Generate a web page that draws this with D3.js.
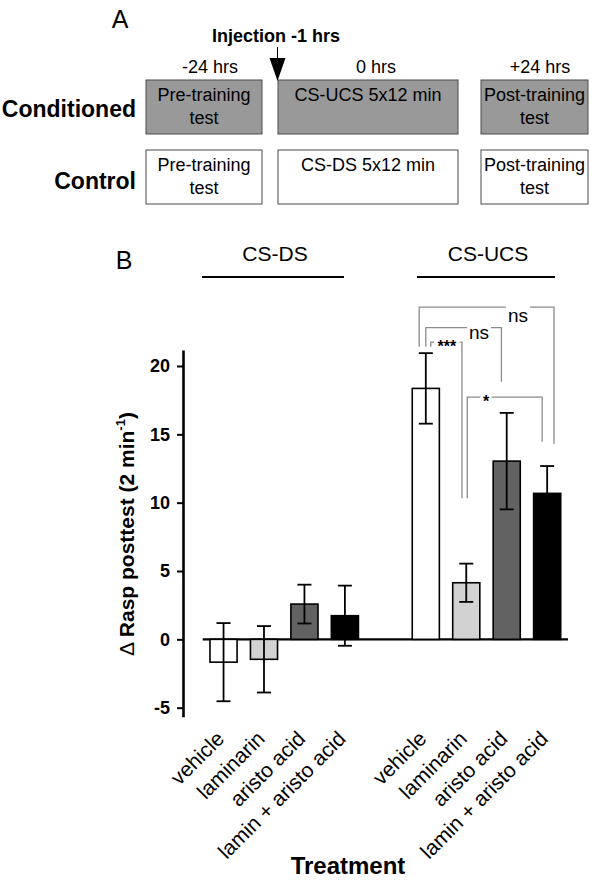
<!DOCTYPE html>
<html><head><meta charset="utf-8">
<script src="https://cdn.jsdelivr.net/npm/d3@7"></script>
<style>body{margin:0;background:#fff}svg{display:block}text{font-family:"Liberation Sans",Arial,sans-serif}</style>
</head><body><div id="chart"></div>
<script>
// ---------- data ----------
const groups = ["CS-DS", "CS-UCS"];
const treatments = ["vehicle", "laminarin", "aristo acid", "lamin + aristo acid"];
const meansCSDS = [-1.67, -1.46, 2.58, 1.73];
const errCSDS = [2.86, 2.43, 1.42, 2.2];
const meansCSUCS = [18.36, 4.14, 13.04, 10.68];
const errCSUCS = [2.58, 1.4, 3.53, 2.0];
const fills = ["#ffffff", "#d2d2d2", "#626262", "#000000"];
const yTicks = [-5, 0, 5, 10, 15, 20];
const yLabel = "Rasp posttest (2 min";
const xTitle = "Treatment";
// significance brackets (CS-UCS group: bar indices, levels in data units)
const sigFrom = [0, 0, 0, 1];
const sigTo = [3, 2, 1, 3];
const sigTop = [24.3, 22.8, 21.75, 17.72];
const sigLeftEnd = [21.4, 21.4, 21.4, 10.32];
const sigRightEnd = [14.3, 18.85, 10.32, 14.45];
const sigLabel = ["ns", "ns", "***", "*"];
// panel A (protocol)
const rowNames = ["Conditioned", "Control"];
const timeLabels = ["-24 hrs", "0 hrs", "+24 hrs"];
const condTexts = [["Pre-training", "test"], ["CS-UCS 5x12 min"], ["Post-training", "test"]];
const ctrlTexts = [["Pre-training", "test"], ["CS-DS 5x12 min"], ["Post-training", "test"]];
const injectionLabel = "Injection -1 hrs";

// ---------- build ----------
const W = 600, H = 881;
const svg = d3.select("#chart").append("svg").attr("width", W).attr("height", H);

// ===== Panel A =====
svg.append("text").attr("x", 120).attr("y", 28).attr("text-anchor", "middle")
  .attr("font-size", 25).text("A");

const colX = [[146, 262], [278, 458], [481, 588]];
const rowY = [[80, 134], [150, 204]];
const rowFill = ["#999999", "#ffffff"];
const rowTexts = [condTexts, ctrlTexts];

timeLabels.forEach((t, i) => {
  const cx = i === 0 ? 210 : i === 1 ? 376 : 540;
  svg.append("text").attr("x", cx).attr("y", 73).attr("text-anchor", "middle")
    .attr("font-size", 18).text(t);
});

rowNames.forEach((rn, r) => {
  svg.append("text").attr("x", 136).attr("y", r === 0 ? 117 : 189).attr("text-anchor", "end")
    .attr("font-size", 23).attr("font-weight", "bold").text(rn);
  colX.forEach((c, i) => {
    svg.append("rect").attr("x", c[0]).attr("y", rowY[r][0])
      .attr("width", c[1] - c[0]).attr("height", rowY[r][1] - rowY[r][0])
      .attr("fill", rowFill[r]).attr("stroke", "#4a4a4a").attr("stroke-width", 1);
    rowTexts[r][i].forEach((line, k) => {
      svg.append("text").attr("x", (c[0] + c[1]) / 2).attr("y", rowY[r][0] + 21 + k * 23)
        .attr("text-anchor", "middle").attr("font-size", 18).text(line);
    });
  });
});

// injection arrow
svg.append("text").attr("x", 276).attr("y", 42).attr("text-anchor", "middle")
  .attr("font-size", 18).attr("font-weight", "bold").text(injectionLabel);
svg.append("line").attr("x1", 277.5).attr("x2", 277.5).attr("y1", 47).attr("y2", 58)
  .attr("stroke", "#000").attr("stroke-width", 1);
svg.append("path").attr("d", "M269.5,58 L285.5,58 L277.5,81 Z").attr("fill", "#000");

// ===== Panel B =====
svg.append("text").attr("x", 124).attr("y", 269).attr("text-anchor", "middle")
  .attr("font-size", 25).text("B");

const keys = [];
groups.forEach((g, gi) => {
  treatments.forEach(t => keys.push(g + "|" + t));
  if (gi === 0) keys.push("gap");
});
const x = d3.scaleBand().domain(keys).range([202.7, 568]).paddingInner(0.33).paddingOuter(0.18);
const y = d3.scaleLinear().domain([-5.66, 21.17]).range([716.7, 350]);

const bars = [];
groups.forEach((g, gi) => {
  const m = gi === 0 ? meansCSDS : meansCSUCS;
  const e = gi === 0 ? errCSDS : errCSUCS;
  treatments.forEach((t, i) => bars.push({ key: g + "|" + t, group: g, t, i, v: m[i], e: e[i] }));
});

// group labels with underline
const groupLine = { "CS-DS": [202, 344], "CS-UCS": [417, 555] };
groups.forEach(g => {
  const [a, b] = groupLine[g];
  svg.append("text").attr("x", (a + b) / 2 + 2).attr("y", 261).attr("text-anchor", "middle")
    .attr("font-size", 21).text(g);
  svg.append("line").attr("x1", a).attr("x2", b).attr("y1", 277).attr("y2", 277)
    .attr("stroke", "#000").attr("stroke-width", 2.2);
});

// y axis
const yAxis = d3.axisLeft(y).tickValues(yTicks).tickSize(6).tickSizeOuter(0).tickPadding(7)
  .tickFormat(d => String(d));
const ga = svg.append("g").attr("transform", "translate(183,0)").call(yAxis);
ga.select(".domain").attr("stroke-width", 2.6);
ga.selectAll(".tick line").attr("stroke-width", 2);
ga.selectAll(".tick text").attr("font-size", 18).attr("font-weight", "bold")
  .attr("font-family", "'Liberation Sans',Arial,sans-serif").attr("fill", "#000");

// y label
const yl = svg.append("text").attr("transform", "translate(134,534) rotate(-90)")
  .attr("text-anchor", "middle").attr("font-size", 21).attr("font-weight", "bold");
yl.append("tspan").attr("font-weight", "normal").text("\u0394 ");
yl.append("tspan").text(yLabel);
yl.append("tspan").attr("font-size", 13).attr("dy", -9).text("-1");
yl.append("tspan").attr("dy", 9).text(")");

// zero line
svg.append("line").attr("x1", 202.7).attr("x2", 568).attr("y1", y(0)).attr("y2", y(0))
  .attr("stroke", "#000").attr("stroke-width", 2.2);

// bars
svg.append("g").selectAll("rect").data(bars).join("rect")
  .attr("x", d => x(d.key)).attr("width", x.bandwidth())
  .attr("y", d => y(Math.max(0, d.v))).attr("height", d => Math.abs(y(d.v) - y(0)))
  .attr("fill", d => fills[d.i]).attr("stroke", "#000").attr("stroke-width", 1.6);

// error bars
const eg = svg.append("g").attr("stroke", "#000").attr("stroke-width", 1.8);
bars.forEach(d => {
  const cx = x(d.key) + x.bandwidth() / 2;
  eg.append("line").attr("x1", cx).attr("x2", cx).attr("y1", y(d.v + d.e)).attr("y2", y(d.v - d.e));
  [d.v + d.e, d.v - d.e].forEach(v => eg.append("line").attr("x1", cx - 7).attr("x2", cx + 7)
    .attr("y1", y(v)).attr("y2", y(v)));
});

// x labels
bars.forEach(d => {
  const cx = x(d.key) + x.bandwidth() / 2;
  svg.append("text").attr("transform", `translate(${cx + 2},${740}) rotate(-45)`)
    .attr("text-anchor", "end").attr("font-size", 21).text(d.t);
});
svg.append("text").attr("x", 348).attr("y", 874).attr("text-anchor", "middle")
  .attr("font-size", 24).attr("font-weight", "bold").text(xTitle);

// significance brackets
const ucsCenter = i => x("CS-UCS|" + treatments[i]) + x.bandwidth() / 2;
const leftOff = [-6.6, 0, 5, 1];
const rightOff = [6.8, -5.3, -4.3, -5];
const sg = svg.append("g").attr("fill", "none").attr("stroke", "#8c8c8c").attr("stroke-width", 1.3);
sigLabel.forEach((lab, k) => {
  const xl = ucsCenter(sigFrom[k]) + leftOff[k];
  const xr = ucsCenter(sigTo[k]) + rightOff[k];
  const yt = y(sigTop[k]);
  const stars = lab.includes("*");
  const fs = stars ? 16 : 19;
  let tx, ty;
  if (k === 0) { tx = 518; ty = yt + 14.5; }
  else if (k === 1) { tx = 479; ty = yt + 11; }
  else if (k === 2) { tx = (xl + xr) / 2 + 0.5; ty = yt + 10; }
  else { tx = 486; ty = yt + 9.5; }
  const half = stars ? lab.length * 3.6 + 2 : 12;
  sg.append("path").attr("d", `M${xl},${y(sigLeftEnd[k])} V${yt} H${tx - half}`);
  sg.append("path").attr("d", `M${tx + half},${yt} H${xr} V${y(sigRightEnd[k])}`);
  svg.append("text").attr("x", tx).attr("y", ty).attr("text-anchor", "middle")
    .attr("font-size", fs).attr("font-weight", stars ? "bold" : "normal").attr("fill", "#000").text(lab);
});
</script></body></html>
